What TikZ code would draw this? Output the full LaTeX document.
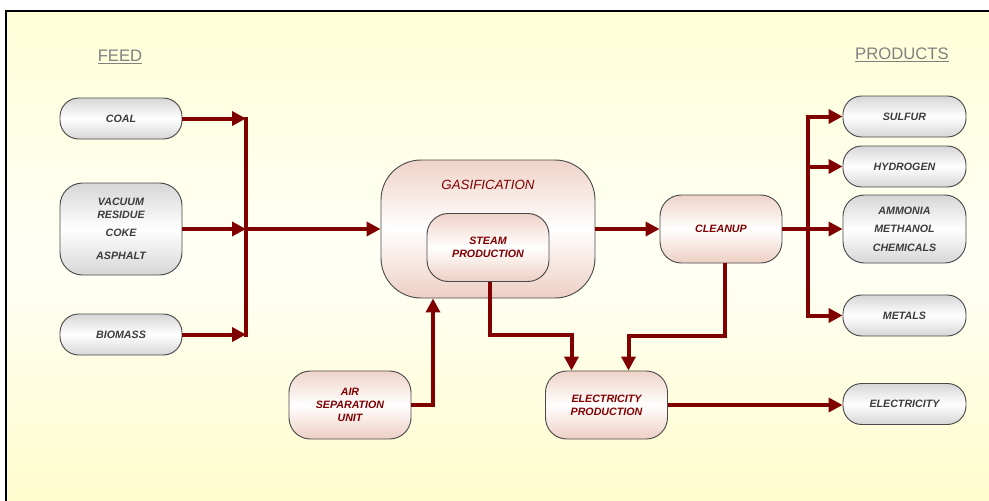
\documentclass[tikz,border=0pt]{standalone}
\usepackage{fontspec}
\setmainfont{Liberation Sans}
\usetikzlibrary{arrows.meta,calc}
\definecolor{dred}{HTML}{800000}
\definecolor{tgray}{HTML}{3C3C3C}
\definecolor{bgray}{HTML}{4A4A4A}
\definecolor{lgray}{HTML}{D6D6D6}
\definecolor{pinkA}{HTML}{EFD3C8}
\definecolor{pinkB}{HTML}{EDCFC3}
\definecolor{bgtop}{HTML}{FFFFD8}
\definecolor{bgmid}{HTML}{FFFFF6}
\definecolor{bgbot}{HTML}{FFFCCB}
\definecolor{hgray}{HTML}{808080}
\begin{document}
\begin{tikzpicture}[x=0.75pt,y=-0.75pt,
  box/.style={draw=bgray, line width=0.7pt, rounded corners=14pt, minimum width=91.5pt,
    inner sep=0pt, align=center, font=\fontsize{8}{9.75}\selectfont\bfseries\itshape},
  graybox/.style={box, top color=lgray, bottom color=lgray, middle color=white, text=tgray},
  redbox/.style={box, top color=pinkA, bottom color=pinkB, middle color=white, text=dred},
  small/.style={minimum height=30.75pt},
  tall/.style={minimum height=51pt},
  pipe/.style={draw=dred, line width=3pt},
  flow/.style={pipe, -{Triangle[length=10.5pt,width=10.5pt]}},
  bus/.style={pipe, line cap=rect},
  head/.style={text=hgray, font=\fontsize{12.5}{14}\selectfont}
]
\useasboundingbox (0,0) rectangle (989,500);
\clip (0,0) rectangle (989,500);
% background
\shade[top color=bgtop, bottom color=bgbot, middle color=bgmid] (6,11) rectangle (1000,510);
\draw[black, line width=0.8pt] (6,511) -- (6,11) -- (1000,11);

% headings
\node[head] (feed) at (120,57) {\underline{FEED}};
\node[head] (prod) at (902,55) {\underline{PRODUCTS}};

% feed boxes
\node[graybox, small] (coal) at (121,118.5) {COAL};
\node[graybox, minimum height=69pt, rounded corners=17pt] (vac) at (121,229)
  {VACUUM\\RESIDUE\\[3.75pt]COKE\\[7.5pt]ASPHALT};
\node[graybox, small] (bio) at (121,334.5) {BIOMASS};

% gasification
\node[redbox, minimum width=160.5pt, minimum height=103.5pt, rounded corners=30pt] (gas) at (488,229) {};
\node[text=dred, font=\fontsize{10}{12}\selectfont\itshape] (gastxt) at (488,185) {GASIFICATION};
\node[redbox, tall, rounded corners=16pt] (steam) at (488,247.5) {STEAM\\PRODUCTION};

% cleanup
\node[redbox, tall, rounded corners=16pt] (clean) at (721,229) {CLEANUP};

% products
\node[graybox, small, minimum width=92.25pt] (sulf) at (904.5,116.5) {SULFUR};
\node[graybox, small, minimum width=92.25pt] (hyd) at (904.5,166.5) {HYDROGEN};
\node[graybox, minimum width=92.25pt, minimum height=51pt, rounded corners=16pt,
  font=\fontsize{8}{14}\selectfont\bfseries\itshape] (amm) at (904.5,229) {AMMONIA\\METHANOL\\CHEMICALS};
\node[graybox, small, minimum width=92.25pt] (met) at (904.5,315.5) {METALS};
\node[graybox, small, minimum width=92.25pt] (elec) at (904.5,404) {ELECTRICITY};

% lower boxes
\node[redbox, tall, rounded corners=16pt] (air) at (350,405) {AIR\\SEPARATION\\UNIT};
\node[redbox, tall, rounded corners=16pt] (ep) at (606.5,405) {ELECTRICITY\\PRODUCTION};

% coordinates
\coordinate (busL) at (246,0);
\coordinate (busR) at (808,0);
\coordinate (airup) at (433,0);
\coordinate (sdown) at (490,335);
\coordinate (cdown) at (725,336);

% left bus
\draw[bus] (coal.east -| busL) -- (bio.east -| busL);
\draw[flow] (coal.east) -- (coal.east -| busL);
\draw[flow] (vac.east) -- (vac.east -| busL);
\draw[flow] (bio.east) -- (bio.east -| busL);
\draw[flow] (vac.east -| busL) -- (gas.west);

% gas to cleanup
\draw[flow] (gas.east) -- (clean.west);

% right bus
\draw[bus] (sulf.west -| busR) -- (met.west -| busR);
\draw[pipe] (clean.east) -- (clean.east -| busR);
\draw[flow] (sulf.west -| busR) -- (sulf.west);
\draw[flow] (hyd.west -| busR) -- (hyd.west);
\draw[flow] (amm.west -| busR) -- (amm.west);
\draw[flow] (met.west -| busR) -- (met.west);

% air separation to gasification
\draw[flow] (air.east) -| (gas.south -| airup);

% steam to electricity production
\draw[flow] (steam.south -| sdown) -- (sdown) -| ($(ep.north)+(-35,0)$);
% cleanup to electricity production
\draw[flow] (clean.south -| cdown) -- (cdown) -| ($(ep.north)+(22,0)$);

% electricity
\draw[flow] (ep.east) -- (ep.east -| elec.west);
\end{tikzpicture}
\end{document}
